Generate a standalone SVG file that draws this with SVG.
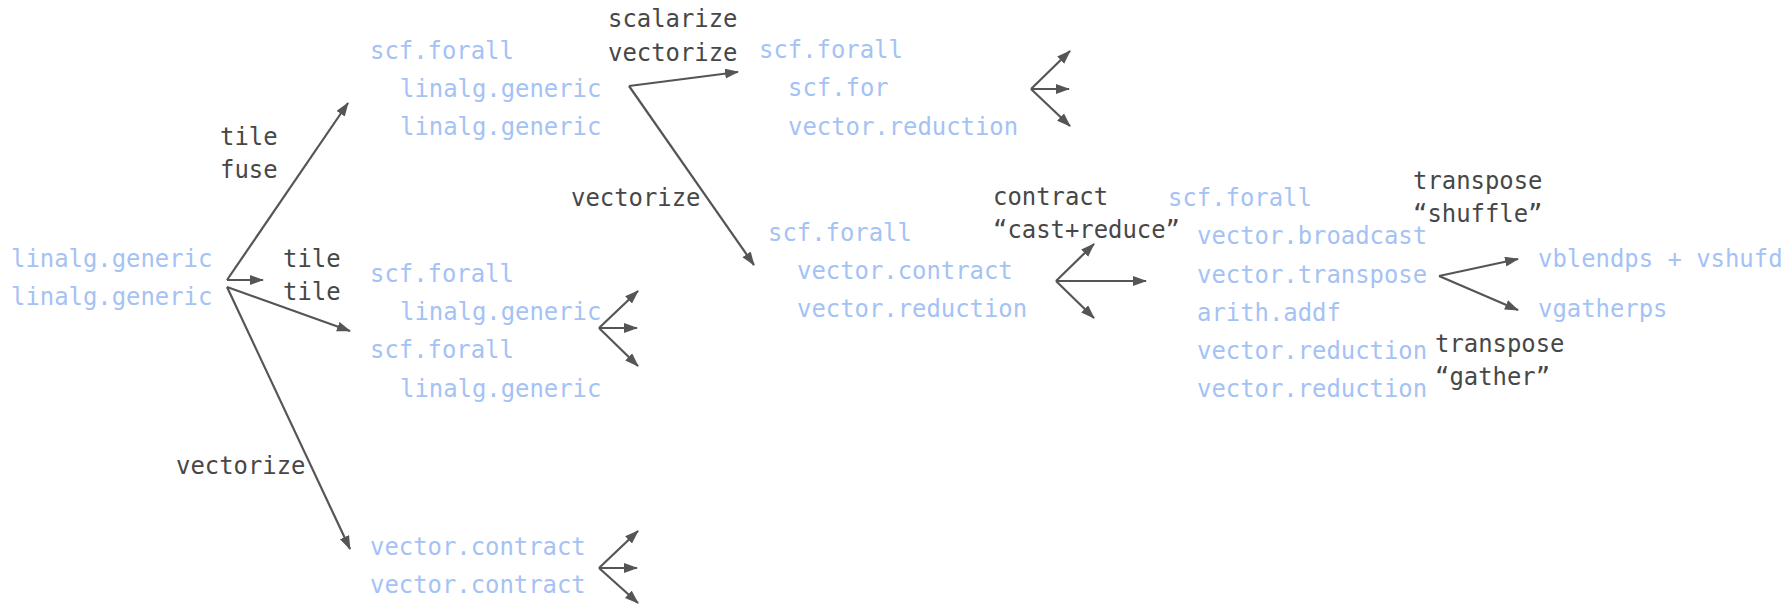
<svg xmlns="http://www.w3.org/2000/svg" width="1784" height="604" viewBox="0 0 1784 604">
  <style>
    text { font-family: "DejaVu Sans Mono", "Liberation Mono", monospace; font-size: 23.9px; }
    .ir { fill: #a4c2f4; }
    .op { fill: #474747; }
    .edge { stroke: #555555; stroke-width: 2.2; fill: none; marker-end: url(#head); }
  </style>
  <defs>
    <marker id="head" markerUnits="userSpaceOnUse" markerWidth="15" markerHeight="11" refX="13" refY="5" orient="auto">
      <path d="M0,0 L14,5 L0,10 Z" fill="#555555"/>
    </marker>
  </defs>
  <rect width="1784" height="604" fill="#ffffff"/>

  <!-- IR nodes -->
  <g id="source">
    <text class="ir" x="11" y="267">linalg.generic</text>
    <text class="ir" x="11" y="305">linalg.generic</text>
  </g>
  <g id="tiled-fused">
    <text class="ir" x="370" y="59">scf.forall</text>
    <text class="ir" x="400" y="97">linalg.generic</text>
    <text class="ir" x="400" y="135">linalg.generic</text>
  </g>
  <g id="tiled-twice">
    <text class="ir" x="370" y="282">scf.forall</text>
    <text class="ir" x="400" y="320">linalg.generic</text>
    <text class="ir" x="370" y="358">scf.forall</text>
    <text class="ir" x="400" y="397">linalg.generic</text>
  </g>
  <g id="vectorized">
    <text class="ir" x="370" y="555">vector.contract</text>
    <text class="ir" x="370" y="593">vector.contract</text>
  </g>
  <g id="scalarized">
    <text class="ir" x="759" y="58">scf.forall</text>
    <text class="ir" x="788" y="96">scf.for</text>
    <text class="ir" x="788" y="135">vector.reduction</text>
  </g>
  <g id="contracted">
    <text class="ir" x="768" y="241">scf.forall</text>
    <text class="ir" x="797" y="279">vector.contract</text>
    <text class="ir" x="797" y="317">vector.reduction</text>
  </g>
  <g id="cast-reduced">
    <text class="ir" x="1168" y="206">scf.forall</text>
    <text class="ir" x="1197" y="244">vector.broadcast</text>
    <text class="ir" x="1197" y="283">vector.transpose</text>
    <text class="ir" x="1197" y="321">arith.addf</text>
    <text class="ir" x="1197" y="359">vector.reduction</text>
    <text class="ir" x="1197" y="397">vector.reduction</text>
  </g>
  <g id="shuffle-asm">
    <text class="ir" x="1538" y="267">vblendps + vshufd</text>
  </g>
  <g id="gather-asm">
    <text class="ir" x="1538" y="317">vgatherps</text>
  </g>

  <!-- transformation labels -->
  <g id="labels">
    <text class="op" x="220" y="145">tile</text>
    <text class="op" x="220" y="178">fuse</text>
    <text class="op" x="283" y="267">tile</text>
    <text class="op" x="283" y="300">tile</text>
    <text class="op" x="176" y="474">vectorize</text>
    <text class="op" x="608" y="27">scalarize</text>
    <text class="op" x="608" y="61">vectorize</text>
    <text class="op" x="571" y="206">vectorize</text>
    <text class="op" x="993" y="205">contract</text>
    <text class="op" x="993" y="238">“cast+reduce”</text>
    <text class="op" x="1413" y="189">transpose</text>
    <text class="op" x="1413" y="222">“shuffle”</text>
    <text class="op" x="1435" y="352">transpose</text>
    <text class="op" x="1435" y="385">“gather”</text>
  </g>

  <!-- connectors -->
  <g id="connectors">
    <line class="edge" x1="227" y1="280" x2="348" y2="103"/>
    <line class="edge" x1="227" y1="280" x2="263" y2="280"/>
    <line class="edge" x1="227" y1="287" x2="350" y2="331"/>
    <line class="edge" x1="227" y1="287" x2="350" y2="549"/>

    <line class="edge" x1="629" y1="86" x2="738" y2="72"/>
    <line class="edge" x1="629" y1="86" x2="754" y2="265"/>

    <line class="edge" x1="1031" y1="89" x2="1070" y2="51"/>
    <line class="edge" x1="1031" y1="89" x2="1069" y2="89"/>
    <line class="edge" x1="1031" y1="89" x2="1070" y2="126"/>

    <line class="edge" x1="599" y1="328" x2="638" y2="291"/>
    <line class="edge" x1="599" y1="328" x2="637" y2="328"/>
    <line class="edge" x1="599" y1="328" x2="638" y2="366"/>

    <line class="edge" x1="599" y1="568" x2="638" y2="531"/>
    <line class="edge" x1="599" y1="568" x2="637" y2="568"/>
    <line class="edge" x1="599" y1="568" x2="638" y2="603"/>

    <line class="edge" x1="1056" y1="281" x2="1094" y2="244"/>
    <line class="edge" x1="1056" y1="281" x2="1146" y2="281"/>
    <line class="edge" x1="1056" y1="281" x2="1094" y2="318"/>

    <line class="edge" x1="1439" y1="276" x2="1518" y2="259"/>
    <line class="edge" x1="1439" y1="276" x2="1518" y2="310"/>
  </g>
</svg>
